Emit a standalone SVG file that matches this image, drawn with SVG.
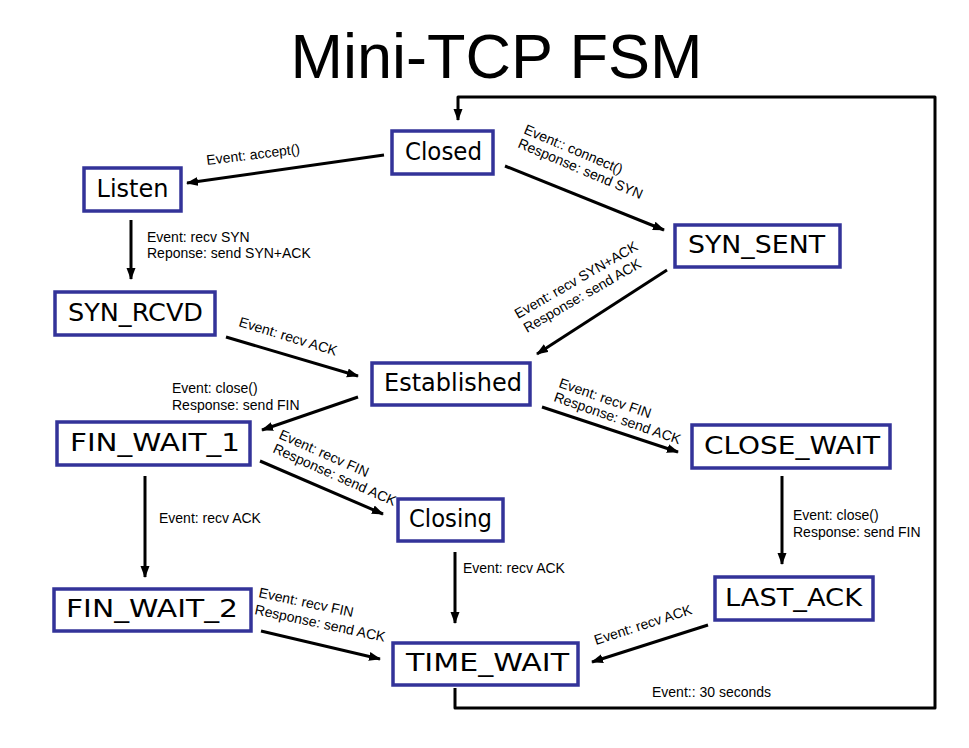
<svg xmlns="http://www.w3.org/2000/svg" width="969" height="748" viewBox="0 0 969 748">
<style>
.node rect{fill:#ffffff;stroke:#333399;stroke-width:3.5}
.node text{font-family:"DejaVu Sans",sans-serif;font-size:24px;fill:#000;text-anchor:middle}
.conn line,.conn path{stroke:#000;stroke-width:3;fill:none}
.lbl{font-family:"Liberation Sans",Arial,sans-serif;font-size:14px;fill:#000}
.title{font-family:"Liberation Sans",Arial,sans-serif;font-size:63px;fill:#000;text-anchor:middle}
</style>
<defs>
<marker id="ah" markerUnits="userSpaceOnUse" markerWidth="13" markerHeight="10" refX="11" refY="4.5" orient="auto">
<path d="M0,0 L12,4.5 L0,9 z" fill="#000"/>
</marker>
</defs>
<rect width="969" height="748" fill="#ffffff"/>
<text class="title" x="496.5" y="78">Mini-TCP FSM</text>

<g id="connectors" class="conn">
<line x1="384" y1="155" x2="187" y2="183" marker-end="url(#ah)"/>
<line x1="505" y1="166" x2="664" y2="230" marker-end="url(#ah)"/>
<line x1="131" y1="220" x2="131" y2="279" marker-end="url(#ah)"/>
<line x1="226" y1="337" x2="358" y2="376" marker-end="url(#ah)"/>
<line x1="667" y1="270" x2="537" y2="354" marker-end="url(#ah)"/>
<line x1="358" y1="397" x2="262" y2="430" marker-end="url(#ah)"/>
<line x1="542" y1="407" x2="678" y2="452" marker-end="url(#ah)"/>
<line x1="260" y1="461" x2="383" y2="514" marker-end="url(#ah)"/>
<line x1="145" y1="476" x2="145" y2="577" marker-end="url(#ah)"/>
<line x1="455" y1="552" x2="455" y2="623" marker-end="url(#ah)"/>
<line x1="261" y1="631" x2="380" y2="659" marker-end="url(#ah)"/>
<line x1="708" y1="625" x2="592" y2="662" marker-end="url(#ah)"/>
<line x1="782" y1="476" x2="782" y2="564" marker-end="url(#ah)"/>
<path d="M455,688 L455,708 L935,708 L935,97 L458,97 L458,120" stroke-linejoin="round" stroke-width="3.5" marker-end="url(#ah)"/>
</g>

<g id="labels">
<text class="lbl" transform="translate(207,165) rotate(-7)">Event: accept()</text>
<text class="lbl" transform="translate(523,133) rotate(23)">Event:: connect()</text>
<text class="lbl" transform="translate(517,147) rotate(23)">Response: send SYN</text>
<text class="lbl" x="147" y="242">Event: recv SYN</text>
<text class="lbl" x="147" y="258">Reponse: send SYN+ACK</text>
<text class="lbl" transform="translate(238,326) rotate(17)">Event: recv ACK</text>
<text class="lbl" transform="translate(518,319) rotate(-30)">Event: recv SYN+ACK</text>
<text class="lbl" transform="translate(527,333) rotate(-30)">Response: send ACK</text>
<text class="lbl" x="172" y="393">Event: close()</text>
<text class="lbl" x="172" y="410">Response: send FIN</text>
<text class="lbl" transform="translate(558,387) rotate(19)">Event: recv FIN</text>
<text class="lbl" transform="translate(553,401) rotate(19)">Response: send ACK</text>
<text class="lbl" transform="translate(278,438) rotate(24)">Event: recv FIN</text>
<text class="lbl" transform="translate(272,452) rotate(24)">Response: send ACK</text>
<text class="lbl" x="159" y="523">Event: recv ACK</text>
<text class="lbl" x="463" y="573">Event: recv ACK</text>
<text class="lbl" transform="translate(258,597) rotate(12)">Event: recv FIN</text>
<text class="lbl" transform="translate(254,614) rotate(12)">Response: send ACK</text>
<text class="lbl" transform="translate(596,645) rotate(-18)">Event: recv ACK</text>
<text class="lbl" x="793" y="520">Event: close()</text>
<text class="lbl" x="793" y="537">Response: send FIN</text>
<text class="lbl" x="652" y="697">Event:: 30 seconds</text>
</g>

<g id="closed" class="node"><rect x="392" y="131" width="101" height="43"/><text x="443.5" y="159.5" textLength="77" lengthAdjust="spacingAndGlyphs">Closed</text></g>
<g id="listen" class="node"><rect x="84" y="168" width="97" height="43"/><text x="132.5" y="196.5" textLength="72" lengthAdjust="spacingAndGlyphs">Listen</text></g>
<g id="syn_sent" class="node"><rect x="675" y="225" width="165" height="42"/><text x="756.5" y="253" textLength="137" lengthAdjust="spacingAndGlyphs">SYN_SENT</text></g>
<g id="syn_rcvd" class="node"><rect x="55" y="292" width="160" height="43"/><text x="135.5" y="320.5" textLength="135" lengthAdjust="spacingAndGlyphs">SYN_RCVD</text></g>
<g id="established" class="node"><rect x="372" y="363" width="158" height="42"/><text x="453" y="391" textLength="138" lengthAdjust="spacingAndGlyphs">Established</text></g>
<g id="fin_wait_1" class="node"><rect x="57" y="422" width="193" height="43"/><text x="155" y="451" textLength="170" lengthAdjust="spacingAndGlyphs">FIN_WAIT_1</text></g>
<g id="close_wait" class="node"><rect x="692" y="425" width="198" height="43"/><text x="792" y="453.5" textLength="176" lengthAdjust="spacingAndGlyphs">CLOSE_WAIT</text></g>
<g id="closing" class="node"><rect x="398" y="499" width="105" height="42"/><text x="450.5" y="527" textLength="83" lengthAdjust="spacingAndGlyphs">Closing</text></g>
<g id="fin_wait_2" class="node"><rect x="54" y="589" width="197" height="42"/><text x="152" y="617" textLength="172" lengthAdjust="spacingAndGlyphs">FIN_WAIT_2</text></g>
<g id="time_wait" class="node"><rect x="393" y="643" width="185" height="42"/><text x="487.5" y="671" textLength="163" lengthAdjust="spacingAndGlyphs">TIME_WAIT</text></g>
<g id="last_ack" class="node"><rect x="715" y="577" width="158" height="43"/><text x="793.5" y="605.5" textLength="137" lengthAdjust="spacingAndGlyphs">LAST_ACK</text></g>
</svg>
